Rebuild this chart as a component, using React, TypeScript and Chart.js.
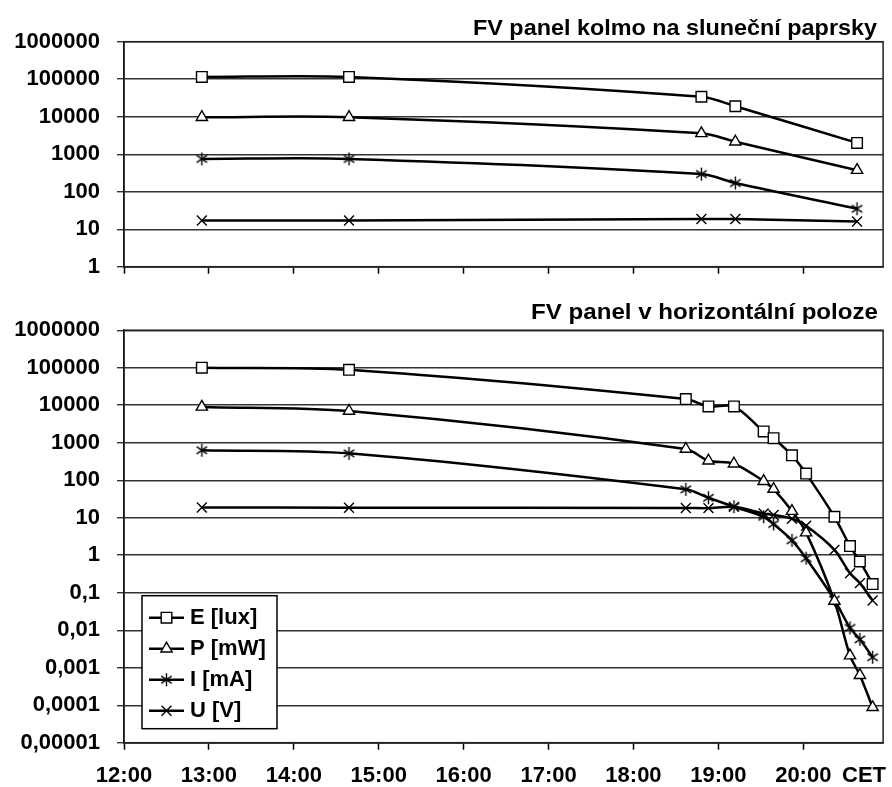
import React, { useEffect, useRef } from "react";
import { Chart, registerables } from "chart.js";

Chart.register(...registerables);

const FONT = "'Liberation Sans', Arial, Helvetica, sans-serif";

// ---------- data ----------
const seriesNames = ["E [lux]", "P [mW]", "I [mA]", "U [V]"];

const topTitle = "FV panel kolmo na sluneční paprsky";
const topTimes = ["12:55", "14:39", "18:48", "19:12", "20:38"];
const topE = [115000, 115000, 34000, 19000, 2000];
const topP = [9700, 9700, 3600, 2150, 375];
const topI = [750, 750, 295, 170, 35];
const topU = [17, 17, 18.7, 18.7, 16];

const bottomTitle = "FV panel v horizontální poloze";
const bottomTimes = [
  "12:55", "14:39", "18:37", "18:53", "19:11", "19:32", "19:39",
  "19:52", "20:02", "20:22", "20:33", "20:40", "20:49",
];
const bottomE = [100000, 88000, 14600, 9300, 9300, 2000, 1320, 460, 150, 10.6, 1.75, 0.68, 0.17];
const bottomP = [9000, 7000, 680, 330, 275, 94, 58, 15, 4, 0.06, 0.0021, 0.00063, 0.000088];
const bottomI = [630, 520, 57, 34, 19.6, 10.6, 6.8, 2.5, 0.83, 0.065, 0.0115, 0.0057, 0.0019];
const bottomU = [18.7, 18.5, 18.2, 18, 19.5, 13, 11.8, 9.4, 6.1, 1.39, 0.33, 0.18, 0.062];

const xTickHours = [12, 13, 14, 15, 16, 17, 18, 19, 20];
const xTickLabels = ["12:00", "13:00", "14:00", "15:00", "16:00", "17:00", "18:00", "19:00", "20:00"];
const xUnitLabel = "CET";
const xMin = 12;
const xMax = 20.94;

const topYTicks = [1, 10, 100, 1000, 10000, 100000, 1000000];
const topYLabels = ["1", "10", "100", "1000", "10000", "100000", "1000000"];
const bottomYTicks = [0.00001, 0.0001, 0.001, 0.01, 0.1, 1, 10, 100, 1000, 10000, 100000, 1000000];
const bottomYLabels = ["0,00001", "0,0001", "0,001", "0,01", "0,1", "1", "10", "100", "1000", "10000", "100000", "1000000"];

// ---------- helpers ----------
function parseTime(s: string): number {
  const [h, m] = s.split(":").map(Number);
  return h + m / 60;
}

const MARKERS = [
  { style: "rect", r: 7.5 },
  { style: "triangle", r: 6.5 },
  { style: "asterisk", r: 6.5 },
  { style: "crossRot", r: 7 },
];

function makeAsterisk(r: number): HTMLCanvasElement {
  const size = Math.ceil(r * 2 + 4);
  const c = document.createElement("canvas");
  c.width = size;
  c.height = size;
  const g = c.getContext("2d")!;
  const m = size / 2;
  const d = r * 0.8;
  g.strokeStyle = "#000";
  g.lineWidth = 1.4;
  g.beginPath();
  g.moveTo(m - d, m - d * 0.7);
  g.lineTo(m + d, m + d * 0.7);
  g.moveTo(m - d, m + d * 0.7);
  g.lineTo(m + d, m - d * 0.7);
  g.moveTo(m, m - r);
  g.lineTo(m, m + r);
  g.stroke();
  return c;
}

function drawMarker(ctx: CanvasRenderingContext2D, idx: number, x: number, y: number, asterisk: HTMLCanvasElement) {
  const { style, r } = MARKERS[idx];
  ctx.save();
  ctx.strokeStyle = "#000";
  ctx.fillStyle = "#fff";
  ctx.lineWidth = 1.4;
  ctx.beginPath();
  if (style === "rect") {
    const s = Math.SQRT1_2 * r;
    ctx.rect(x - s, y - s, 2 * s, 2 * s);
    ctx.fill();
    ctx.stroke();
  } else if (style === "triangle") {
    let rad = 0;
    ctx.moveTo(x + Math.sin(rad) * r, y - Math.cos(rad) * r);
    rad += (2 * Math.PI) / 3;
    ctx.lineTo(x + Math.sin(rad) * r, y - Math.cos(rad) * r);
    rad += (2 * Math.PI) / 3;
    ctx.lineTo(x + Math.sin(rad) * r, y - Math.cos(rad) * r);
    ctx.closePath();
    ctx.fill();
    ctx.stroke();
  } else if (style === "asterisk") {
    ctx.drawImage(asterisk, x - asterisk.width / 2, y - asterisk.height / 2);
  } else {
    const d = Math.SQRT1_2 * r;
    ctx.moveTo(x - d, y - d);
    ctx.lineTo(x + d, y + d);
    ctx.moveTo(x - d, y + d);
    ctx.lineTo(x + d, y - d);
    ctx.stroke();
  }
  ctx.restore();
}

type PanelSpec = {
  title: string;
  titleRight: number;
  titleBaseline: number;
  titleWidth: number;
  times: string[];
  series: number[][];
  yMin: number;
  yTicks: number[];
  yLabels: string[];
  padTop: number;
  xAxisHeight: number;
  showXLabels: boolean;
  legend: boolean;
};

const X_LABEL_PAD = 13;
const TICK_LEN = 7;

function buildConfig(p: PanelSpec, asterisk: HTMLCanvasElement): any {
  const datasets = p.series.map((vals, i) => {
    const mk = MARKERS[i];
    return {
      label: seriesNames[i],
      data: vals.map((v, j) => ({ x: parseTime(p.times[j]), y: v })),
      borderColor: "#000",
      borderWidth: 2.5,
      tension: 0.3,
      fill: false,
      pointStyle: mk.style === "asterisk" ? asterisk : mk.style,
      pointRadius: mk.r,
      pointBorderWidth: 1.4,
      pointBorderColor: "#000",
      pointBackgroundColor: "#fff",
    };
  });

  const framePlugin = {
    id: "frame",
    beforeDatasetsDraw(chart: any) {
      const { ctx, chartArea: a } = chart;
      ctx.save();
      ctx.strokeStyle = "#222";
      ctx.lineWidth = 1.5;
      ctx.strokeRect(a.left, a.top, a.right - a.left, a.bottom - a.top);
      ctx.restore();
    },
  };

  const textPlugin = {
    id: "texts",
    afterDraw(chart: any) {
      const ctx: CanvasRenderingContext2D = chart.ctx;
      ctx.save();
      // title
      ctx.font = `bold 22px ${FONT}`;
      ctx.fillStyle = "#000";
      ctx.textAlign = "right";
      ctx.textBaseline = "alphabetic";
      const w = ctx.measureText(p.title).width;
      const sx = p.titleWidth / w;
      ctx.translate(p.titleRight, p.titleBaseline);
      ctx.scale(sx, 1);
      ctx.fillText(p.title, 0, 0);
      ctx.restore();

      if (p.showXLabels) {
        const xs = chart.scales.x;
        const cy = xs.top + TICK_LEN + X_LABEL_PAD + 22 * 1.2 / 2;
        ctx.save();
        ctx.font = `bold 22px ${FONT}`;
        ctx.fillStyle = "#000";
        ctx.textAlign = "left";
        ctx.textBaseline = "middle";
        ctx.fillText(xUnitLabel, 842, cy);
        ctx.restore();
      }

      if (p.legend) {
        const L = { x: 142, y: chart.chartArea.bottom - 147, w: 135, h: 133 };
        ctx.save();
        ctx.fillStyle = "#fff";
        ctx.fillRect(L.x, L.y, L.w, L.h);
        ctx.strokeStyle = "#000";
        ctx.lineWidth = 1.5;
        ctx.strokeRect(L.x, L.y, L.w, L.h);
        seriesNames.forEach((name, i) => {
          const cy = L.y + 22 + i * 31;
          ctx.strokeStyle = "#000";
          ctx.lineWidth = 2.5;
          ctx.beginPath();
          ctx.moveTo(L.x + 7, cy);
          ctx.lineTo(L.x + 42, cy);
          ctx.stroke();
          drawMarker(ctx, i, L.x + 24.5, cy, asterisk);
          ctx.font = `bold 22px ${FONT}`;
          ctx.fillStyle = "#000";
          ctx.textAlign = "left";
          ctx.textBaseline = "middle";
          ctx.fillText(name, L.x + 48, cy);
        });
        ctx.restore();
      }
    },
  };

  return {
    type: "line",
    data: { datasets },
    plugins: [framePlugin, textPlugin],
    options: {
      responsive: false,
      animation: false,
      devicePixelRatio: 1,
      layout: { padding: { top: p.padTop, right: 4, bottom: 0, left: 0 } },
      plugins: {
        legend: { display: false },
        tooltip: { enabled: false },
        title: { display: false },
      },
      scales: {
        x: {
          type: "linear",
          min: xMin,
          max: xMax,
          afterBuildTicks: (s: any) => {
            s.ticks = xTickHours.map((v) => ({ value: v }));
          },
          afterFit: (s: any) => {
            s.height = p.xAxisHeight;
          },
          grid: {
            drawOnChartArea: false,
            drawTicks: true,
            tickLength: TICK_LEN,
            tickWidth: 1.5,
            tickColor: "#000",
          },
          border: { display: true, color: "#000", width: 1.5 },
          ticks: {
            display: p.showXLabels,
            padding: X_LABEL_PAD,
            color: "#000",
            maxRotation: 0,
            autoSkip: false,
            font: { family: FONT, size: 22, weight: "bold" },
            callback: (_v: any, i: number) => xTickLabels[i],
          },
        },
        y: {
          type: "logarithmic",
          min: p.yMin,
          max: 1000000,
          afterBuildTicks: (s: any) => {
            s.ticks = p.yTicks.map((v) => ({ value: v }));
          },
          afterFit: (s: any) => {
            s.width = 124;
          },
          grid: {
            color: "#333",
            lineWidth: 1.4,
            drawTicks: true,
            tickLength: TICK_LEN,
            tickColor: "#333",
          },
          border: { display: true, color: "#000", width: 1.5 },
          ticks: {
            padding: 17,
            color: "#000",
            autoSkip: false,
            font: { family: FONT, size: 22, weight: "bold" },
            callback: (_v: any, i: number) => p.yLabels[i],
          },
        },
      },
    },
  };
}

const topSpec: PanelSpec = {
  title: topTitle,
  titleRight: 877,
  titleBaseline: 34.5,
  titleWidth: 404,
  times: topTimes,
  series: [topE, topP, topI, topU],
  yMin: 1,
  yTicks: topYTicks,
  yLabels: topYLabels,
  padTop: 41.7,
  xAxisHeight: 33.3,
  showXLabels: false,
  legend: false,
};

const bottomSpec: PanelSpec = {
  title: bottomTitle,
  titleRight: 878,
  titleBaseline: 18.5,
  titleWidth: 347,
  times: bottomTimes,
  series: [bottomE, bottomP, bottomI, bottomU],
  yMin: 0.00001,
  yTicks: bottomYTicks,
  yLabels: bottomYLabels,
  padTop: 27.3,
  xAxisHeight: 44.3,
  showXLabels: true,
  legend: true,
};

export default function App() {
  const topRef = useRef<HTMLCanvasElement>(null);
  const bottomRef = useRef<HTMLCanvasElement>(null);

  useEffect(() => {
    const asterisk = makeAsterisk(MARKERS[2].r);
    const c1 = new Chart(topRef.current!, buildConfig(topSpec, asterisk));
    const c2 = new Chart(bottomRef.current!, buildConfig(bottomSpec, asterisk));
    return () => {
      c1.destroy();
      c2.destroy();
    };
  }, []);

  return (
    <div style={{ position: "absolute", left: 0, top: 0, width: 892, height: 787, background: "#fff" }}>
      <canvas ref={topRef} width={892} height={300} style={{ position: "absolute", left: 0, top: 0, display: "block" }} />
      <canvas ref={bottomRef} width={892} height={487} style={{ position: "absolute", left: 0, top: 300, display: "block" }} />
    </div>
  );
}
